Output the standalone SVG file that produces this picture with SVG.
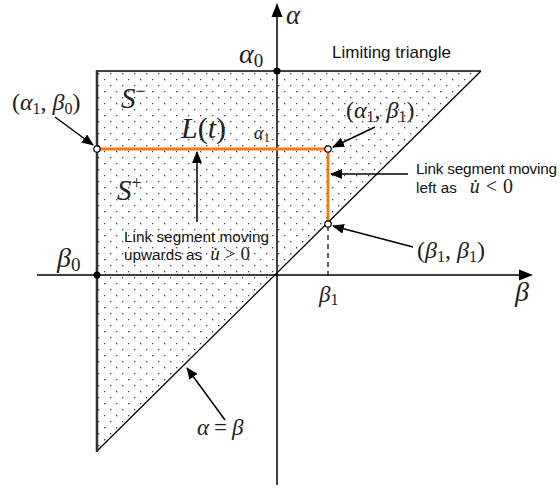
<svg xmlns="http://www.w3.org/2000/svg" width="560" height="491" viewBox="0 0 560 491">
<style>
.m{font-family:"Liberation Serif","DejaVu Serif",serif;font-style:italic;fill:#222}
.r{font-family:"Liberation Serif","DejaVu Serif",serif;fill:#222}
.s{font-family:"Liberation Sans",Arial,sans-serif;font-size:15.3px;fill:#111}
.ax{stroke:#000;stroke-width:1.5;fill:none}
.ln{stroke:#000;stroke-width:1.3;fill:none}
.ar{stroke:#000;stroke-width:1.5;fill:none;marker-end:url(#ah)}
.or{stroke:#f7790f;stroke-width:2.8;fill:none}
.oc{fill:#fff;stroke:#000;stroke-width:1.2}
</style>
<defs>
<pattern id="dots" width="12" height="12" patternUnits="userSpaceOnUse" x="98" y="73">
<rect x="0" y="0" width="1.3" height="1.3" fill="#444"/>
<rect x="6" y="6" width="1.3" height="1.3" fill="#444"/>
</pattern>
<marker id="ah" markerWidth="12" markerHeight="10" refX="11" refY="5" orient="auto" markerUnits="userSpaceOnUse">
<path d="M0,0 L12,5 L0,10 Z" fill="#000"/>
</marker>
</defs>

<g id="region">
<path d="M97,71 L481,71 L97,451 Z" fill="url(#dots)" stroke="none"/>
<line x1="97" y1="71" x2="481" y2="71" class="ln"/>
<line x1="481" y1="71" x2="97" y2="451" class="ln"/>
<line x1="97" y1="70" x2="97" y2="452" stroke="#333" stroke-width="2.5"/>
</g>

<g id="axes">
<line x1="37" y1="275" x2="521" y2="275" class="ax"/>
<path d="M533,275 L519,269.5 L519,280.5 Z" fill="#000"/>
<line x1="277" y1="485" x2="277" y2="16" class="ax"/>
<path d="M277,3 L271.5,17 L282.5,17 Z" fill="#000"/>
<text x="286" y="24" class="m" font-size="27">α</text>
<text x="515" y="301" class="m" font-size="28">β</text>
</g>

<g id="link">
<line x1="97" y1="149" x2="328" y2="149" class="or"/>
<line x1="328" y1="149" x2="328" y2="224" class="or"/>
<line x1="328" y1="226" x2="328" y2="275" stroke="#000" stroke-width="1.2" stroke-dasharray="5,4"/>
</g>

<g id="points">
<circle cx="277" cy="71" r="3.5" fill="#000"/>
<circle cx="97" cy="275" r="3.5" fill="#000"/>
<circle cx="97" cy="149" r="3.2" class="oc"/>
<circle cx="328" cy="149" r="3.2" class="oc"/>
<circle cx="328" cy="224" r="3.2" class="oc"/>
</g>

<g id="connectors">
<line x1="55" y1="117" x2="93" y2="145" class="ar"/>
<line x1="375" y1="127" x2="333" y2="147" class="ar"/>
<line x1="197" y1="222" x2="197" y2="152" class="ar"/>
<line x1="408" y1="174" x2="331" y2="174" class="ar"/>
<line x1="413" y1="247" x2="333" y2="226" class="ar"/>
<line x1="225" y1="420" x2="187" y2="368" class="ar"/>
</g>

<g id="labels">
<text x="239" y="63" class="m" font-size="28">α<tspan font-size="19" font-style="normal" dy="4">0</tspan></text>
<text x="332" y="58" class="s" style="font-size:17px">Limiting triangle</text>
<text x="12" y="110" class="r" font-size="24">(<tspan font-style="italic">α</tspan><tspan font-size="16" dy="4">1</tspan><tspan dy="-4">, </tspan><tspan font-style="italic">β</tspan><tspan font-size="16" dy="4">0</tspan><tspan dy="-4">)</tspan></text>
<text x="121" y="108" class="m" font-size="29">S<tspan font-size="18" font-style="normal" dy="-11">−</tspan></text>
<text x="181" y="138" class="m" font-size="30">L<tspan font-style="normal">(</tspan>t<tspan font-style="normal">)</tspan></text>
<text x="254" y="139" class="m" font-size="18">α<tspan font-size="13" font-style="normal" dy="3">1</tspan></text>
<text x="346" y="118" class="r" font-size="24">(<tspan font-style="italic">α</tspan><tspan font-size="16" dy="4">1</tspan><tspan dy="-4">, </tspan><tspan font-style="italic">β</tspan><tspan font-size="16" dy="4">1</tspan><tspan dy="-4">)</tspan></text>
<text x="117" y="200" class="m" font-size="29">S<tspan font-size="18" font-style="normal" dy="-11">+</tspan></text>
<text x="124" y="242" class="s" textLength="145">Link segment moving</text>
<text x="124" y="260" class="s">upwards as<tspan class="m" font-size="19" dx="8">u̇</tspan><tspan class="r" font-size="19" dx="5">&gt;</tspan><tspan class="r" font-size="19" dx="5">0</tspan></text>
<text x="57" y="267" class="m" font-size="28">β<tspan font-size="19" font-style="normal" dy="4">0</tspan></text>
<text x="416" y="174" class="s" textLength="141">Link segment moving</text>
<text x="416" y="193" class="s">left as<tspan class="m" font-size="20" dx="13">u̇</tspan><tspan class="r" font-size="20" dx="6">&lt;</tspan><tspan class="r" font-size="20" dx="6">0</tspan></text>
<text x="417" y="258" class="r" font-size="24">(<tspan font-style="italic">β</tspan><tspan font-size="16" dy="4">1</tspan><tspan dy="-4">, </tspan><tspan font-style="italic">β</tspan><tspan font-size="16" dy="4">1</tspan><tspan dy="-4">)</tspan></text>
<text x="319" y="302" class="m" font-size="23">β<tspan font-size="16" font-style="normal" dy="3">1</tspan></text>
<text x="197" y="435" class="m" font-size="23">α<tspan font-style="normal" dx="5">=</tspan><tspan dx="5">β</tspan></text>
</g>
</svg>
